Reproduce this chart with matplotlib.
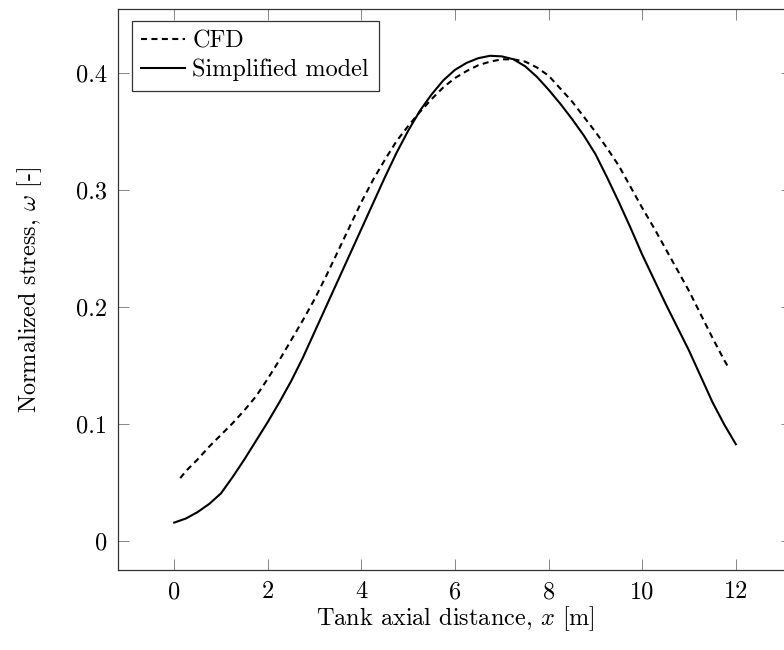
import matplotlib
matplotlib.use("Agg")
import matplotlib.pyplot as plt

# --- data ---
CFD_X = [0.13, 0.25, 0.5, 0.75, 1.0, 1.25, 1.5, 1.75, 2.0, 2.25, 2.5, 2.75, 3.0,
         3.25, 3.5, 3.75, 4.0, 4.25, 4.5, 4.75, 5.0, 5.25, 5.5, 5.75, 6.0, 6.25,
         6.5, 6.75, 7.0, 7.25, 7.5, 7.75, 8.0, 8.25, 8.5, 8.75, 9.0, 9.25, 9.5,
         9.75, 10.0, 10.25, 10.5, 10.75, 11.0, 11.25, 11.5, 11.75, 11.85]
CFD_Y = [0.054, 0.060, 0.070, 0.081, 0.091, 0.101, 0.112, 0.124, 0.139, 0.155,
         0.172, 0.189, 0.207, 0.227, 0.248, 0.269, 0.290, 0.309, 0.326, 0.342,
         0.355, 0.367, 0.378, 0.388, 0.396, 0.402, 0.407, 0.410, 0.412, 0.412,
         0.410, 0.405, 0.398, 0.387, 0.376, 0.363, 0.350, 0.336, 0.321, 0.303,
         0.285, 0.268, 0.250, 0.232, 0.214, 0.194, 0.174, 0.155, 0.148]

MODEL_X = [0.0, 0.25, 0.5, 0.75, 1.0, 1.25, 1.5, 1.75, 2.0, 2.25, 2.5, 2.75, 3.0,
           3.25, 3.5, 3.75, 4.0, 4.25, 4.5, 4.75, 5.0, 5.25, 5.5, 5.75, 6.0, 6.25,
           6.5, 6.75, 7.0, 7.25, 7.5, 7.75, 8.0, 8.25, 8.5, 8.75, 9.0, 9.25, 9.5,
           9.75, 10.0, 10.25, 10.5, 10.75, 11.0, 11.25, 11.5, 11.75, 12.0]
MODEL_Y = [0.016, 0.0195, 0.025, 0.032, 0.041, 0.055, 0.070, 0.086, 0.102, 0.119,
           0.137, 0.157, 0.179, 0.201, 0.223, 0.245, 0.267, 0.289, 0.311, 0.332,
           0.351, 0.368, 0.382, 0.394, 0.403, 0.409, 0.413, 0.415, 0.4145, 0.412,
           0.406, 0.397, 0.386, 0.374, 0.361, 0.347, 0.331, 0.311, 0.290, 0.268,
           0.245, 0.224, 0.203, 0.183, 0.163, 0.141, 0.119, 0.100, 0.083]

X_TICKS = [0, 2, 4, 6, 8, 10, 12]
Y_TICKS = [0, 0.1, 0.2, 0.3, 0.4]
Y_TICK_LABELS = ["0", "0.1", "0.2", "0.3", "0.4"]

# --- style (pgfplots look) ---
plt.rcParams["font.family"] = ["cmr10", "DejaVu Serif"]
plt.rcParams["mathtext.fontset"] = "cm"
plt.rcParams["axes.unicode_minus"] = False
FS = 17.5

fig = plt.figure(figsize=(7.84, 6.5), dpi=100)
ax = fig.add_axes([118 / 784, 80 / 650, 674 / 784, 561 / 650])

ax.plot(CFD_X, CFD_Y, color="black", lw=1.5, dashes=(2.9, 2.1), label="CFD")
ax.plot(MODEL_X, MODEL_Y, color="black", lw=1.5, label="Simplified model")

ax.set_xlim(-1.2, 13.2)
ax.set_ylim(-0.0245, 0.455)
ax.set_xticks(X_TICKS, labels=[str(t) for t in X_TICKS])
ax.set_yticks(Y_TICKS, labels=Y_TICK_LABELS)
ax.tick_params(direction="in", length=8, width=0.6, color="0.45",
               top=True, right=True, pad=8, labelsize=FS)
for sp in ax.spines.values():
    sp.set_linewidth(0.9)
    sp.set_color("0.2")

ax.set_xlabel(r"Tank axial distance, $x$ [m]", fontsize=FS, labelpad=1)
ax.set_ylabel(r"Normalized stress, $\omega$ [-]", fontsize=FS, labelpad=23)

leg = ax.legend(loc="upper left", bbox_to_anchor=(0.0203, 0.979),
                borderaxespad=0, fancybox=False, framealpha=1,
                edgecolor="0.2", handlelength=1.8, handletextpad=0.3,
                borderpad=0.4, labelspacing=0.25, fontsize=FS)
leg.get_frame().set_linewidth(0.9)

plt.savefig("out.png", dpi=100)
